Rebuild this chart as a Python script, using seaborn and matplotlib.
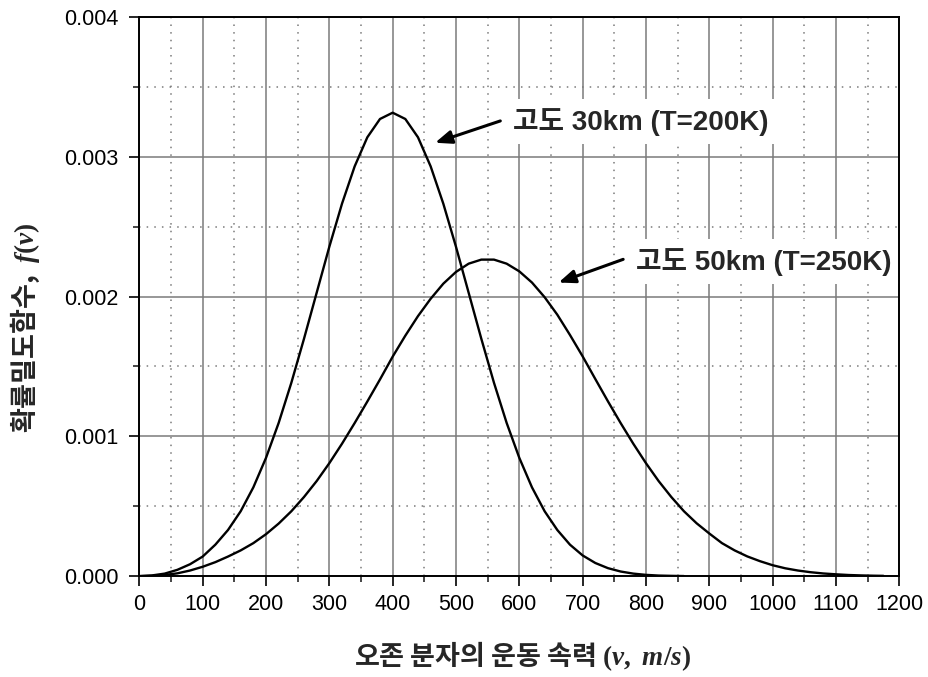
"""
Speed distribution of ozone molecules at two altitudes (30 km and 50 km).
Line chart with dense grid, two annotated curves.
"""

import numpy as np
import pandas as pd
import matplotlib

matplotlib.use("Agg")
import matplotlib.pyplot as plt
import seaborn as sns
from matplotlib.ticker import MultipleLocator, FormatStrFormatter

# Curve for 30 km (T=200K) (x 1e-3)
speed_30km = [0, 20, 40, 60, 80, 100, 120, 140, 160, 180, 200, 220, 240, 260,
              280, 300, 320, 340, 360, 380, 400, 420, 440, 460, 480, 500, 520,
              540, 560, 580, 600, 620, 640, 660, 680, 700, 720, 740, 760, 780,
              800, 820, 840, 860]
dens_30km = [0.0, 0.005, 0.018, 0.045, 0.085, 0.140, 0.225, 0.330, 0.464,
             0.635, 0.846, 1.096, 1.383, 1.698, 2.027, 2.356, 2.664, 2.931,
             3.139, 3.270, 3.315, 3.270, 3.139, 2.931, 2.664, 2.356, 2.027,
             1.698, 1.383, 1.096, 0.846, 0.635, 0.464, 0.330, 0.225, 0.148,
             0.094, 0.057, 0.033, 0.018, 0.009, 0.004, 0.002, 0.0005]

# Curve for 50 km (T=250K)
speed_50km = [0, 20, 40, 60, 80, 100, 120, 140, 160, 180, 200, 220, 240, 260,
              280, 300, 320, 340, 360, 380, 400, 420, 440, 460, 480, 500, 520,
              540, 560, 580, 600, 620, 640, 660, 680, 700, 720, 740, 760, 780,
              800, 820, 840, 860, 880, 900, 920, 940, 960, 980, 1000, 1020,
              1040, 1060, 1080, 1100, 1120, 1140, 1160, 1175]
dens_50km = [0.0, 0.002, 0.008, 0.020, 0.040, 0.067, 0.100, 0.140, 0.184,
             0.236, 0.300, 0.376, 0.464, 0.566, 0.680, 0.808, 0.947, 1.095,
             1.249, 1.407, 1.570, 1.720, 1.860, 1.984, 2.092, 2.176, 2.235,
             2.264, 2.264, 2.235, 2.180, 2.100, 1.995, 1.870, 1.725, 1.572,
             1.410, 1.250, 1.095, 0.947, 0.808, 0.680, 0.566, 0.464, 0.378,
             0.305, 0.236, 0.184, 0.141, 0.107, 0.078, 0.056, 0.040, 0.028,
             0.019, 0.013, 0.008, 0.005, 0.003, 0.002]

curve_labels = ["고도 30km (T=200K)", "고도 50km (T=250K)"]

x_label = "오존 분자의 운동 속력 $\\mathbf{(}v,\\ m/s\\mathbf{)}$"
y_label = "확률밀도함수,  $f(v)$"

KR_FONT = ["Noto Sans CJK KR", "DejaVu Sans"]


def build_frame():
    """Long-format table for seaborn."""
    a = pd.DataFrame({"v": speed_30km, "f": np.array(dens_30km) * 1e-3,
                      "curve": curve_labels[0]})
    b = pd.DataFrame({"v": speed_50km, "f": np.array(dens_50km) * 1e-3,
                      "curve": curve_labels[1]})
    return pd.concat([a, b], ignore_index=True)


def make_plot(df):
    sns.set_style("white")
    plt.rcParams["font.family"] = ["Liberation Sans", "Noto Sans CJK KR", "DejaVu Sans"]
    plt.rcParams["mathtext.fontset"] = "custom"
    plt.rcParams["mathtext.rm"] = "Liberation Serif:bold"
    plt.rcParams["mathtext.it"] = "Liberation Serif:italic:bold"
    plt.rcParams["mathtext.bf"] = "Liberation Serif:bold"

    fig = plt.figure(figsize=(9.29, 6.77), dpi=100)
    ax = fig.add_axes([0.150, 0.149, 0.818, 0.826])

    sns.lineplot(data=df, x="v", y="f", hue="curve", palette=["black", "black"],
                 estimator=None, linewidth=1.7, legend=False, ax=ax, zorder=5)

    ax.set_xlim(0, 1200)
    ax.set_ylim(0, 0.004)
    ax.xaxis.set_major_locator(MultipleLocator(100))
    ax.xaxis.set_minor_locator(MultipleLocator(50))
    ax.yaxis.set_major_locator(MultipleLocator(0.001))
    ax.yaxis.set_minor_locator(MultipleLocator(0.0005))
    ax.yaxis.set_major_formatter(FormatStrFormatter("%.3f"))

    # grid: solid majors, dotted minors
    ax.grid(which="major", color="#7a7a7a", linewidth=1.1, linestyle="-")
    ax.grid(which="minor", color="#7a7a7a", linewidth=1.1, linestyle=(0, (1, 4)))
    ax.set_axisbelow(True)

    # frame drawn above the annotation boxes
    for side in ["left", "right", "top", "bottom"]:
        ax.spines[side].set_visible(True)
        ax.spines[side].set_color("black")
        ax.spines[side].set_linewidth(1.4)
        ax.spines[side].set_zorder(10)

    ax.tick_params(which="major", direction="out", length=7, width=1.2,
                   labelsize=15.5, colors="black", bottom=True, left=True)
    ax.tick_params(axis="y", which="major", pad=8)
    ax.tick_params(axis="x", which="major", pad=6)
    ax.tick_params(which="minor", direction="out", length=4, width=1.2,
                   bottom=True, left=True)

    ax.set_xlabel(x_label, fontsize=19.5, fontweight="bold", family=KR_FONT)
    ax.xaxis.set_label_coords(0.504, -0.113)
    ax.set_ylabel(y_label, fontsize=19.5, fontweight="bold", family=KR_FONT)
    ax.yaxis.set_label_coords(-0.128, 0.444)

    # annotations with arrows
    notes = [
        (curve_labels[0], (590, 0.00325), (570, 0.003256), (467, 0.00310)),
        (curve_labels[1], (785, 0.00225), (764, 0.002266), (662, 0.00210)),
    ]
    for label, text_xy, tail, head in notes:
        ax.text(text_xy[0], text_xy[1], label, ha="left", va="center",
                fontsize=20, fontweight="bold",
                family=["Liberation Sans", "Noto Sans CJK KR"], zorder=6,
                bbox=dict(boxstyle="square,pad=0.3", facecolor="white",
                          edgecolor="none"))
        ax.annotate("", xy=head, xytext=tail, zorder=7,
                    arrowprops=dict(arrowstyle="-|>,head_length=0.55,head_width=0.22",
                                    color="black", lw=2.2, mutation_scale=18,
                                    shrinkA=0, shrinkB=0))
    return fig


if __name__ == "__main__":
    df = build_frame()
    fig = make_plot(df)
    fig.savefig("out.png", dpi=100, facecolor="white")
    plt.close(fig)
